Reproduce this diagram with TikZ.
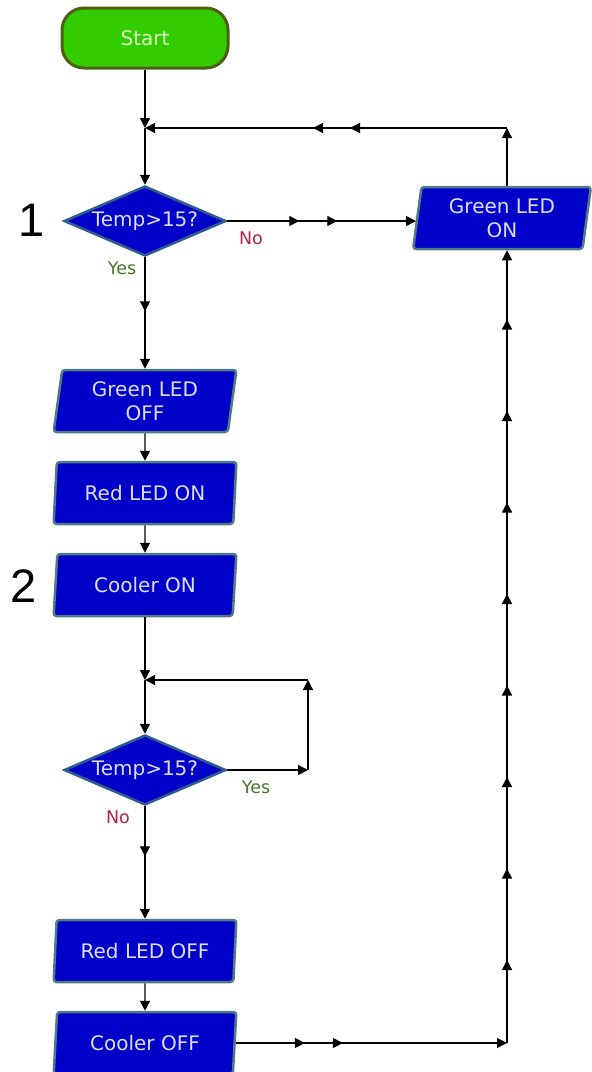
\documentclass[tikz,border=0pt]{standalone}
\usepackage{fontspec}
\setmainfont{DejaVu Sans}
\newfontfamily\stepfont{Liberation Sans}
\usetikzlibrary{shapes.geometric,arrows.meta,decorations.markings}

\definecolor{startgreen}{RGB}{51,204,0}
\definecolor{startrim}{RGB}{78,96,20}
\definecolor{startpale}{RGB}{222,245,200}
\definecolor{boxblue}{RGB}{0,0,200}
\definecolor{boxrim}{RGB}{80,122,134}
\definecolor{diarim}{RGB}{46,94,142}
\definecolor{boxtext}{RGB}{222,222,255}
\definecolor{yesgreen}{RGB}{70,120,40}
\definecolor{nored}{RGB}{170,40,70}

\newcommand\flowfont{\fontsize{20}{24}\selectfont}
\newcommand\lblfont{\fontsize{17.5}{20}\selectfont}

\tikzset{
  flowtip/.tip={Triangle[length=10pt,width=10pt]},
  flow/.style={line width=1.4pt,-flowtip},
  tipat/.style={postaction={decorate,decoration={markings,
      mark=at position #1 with {\arrow{flowtip}}}}},
  tipsup/.style={postaction={decorate,decoration={markings,
      mark=between positions 83pt and 740pt step 91.5pt with {\arrow{flowtip}}}}},
  startbox/.style={rectangle,rounded corners=22pt,fill=startgreen,draw=startrim,
    line width=3pt,minimum width=166pt,minimum height=60pt,text=startpale,font=\flowfont},
  iobox/.style={trapezium,trapezium left angle=82,trapezium right angle=98,
    trapezium stretches=true,fill=boxblue,draw=boxrim,line width=2.5pt,
    rounded corners=3pt,minimum width=183pt,minimum height=62pt,inner sep=0pt,
    text=boxtext,align=center,font=\flowfont},
  testbox/.style={diamond,aspect=2.3,inner sep=0pt,minimum width=162pt,
    minimum height=70pt,fill=boxblue,draw=diarim,line width=2.5pt,text=boxtext,font=\flowfont},
  yeslbl/.style={text=yesgreen,font=\lblfont,inner sep=0pt},
  nolbl/.style={text=nored,font=\lblfont,inner sep=0pt},
  stepno/.style={font=\stepfont\fontsize{47}{50}\selectfont,inner sep=0pt}
}

\begin{document}
\begin{tikzpicture}[x=1pt,y=-1pt]
  \useasboundingbox (0,0) rectangle (592,1072);

  % Start
  \node[startbox] (start) at (145,38) {Start};

  % First test
  \node[testbox] (test1) at (145,221) {Temp>15?};
  \node[stepno] (num1) at (32,220) {1};
  \node[yeslbl] (yes1) at (122,268) {Yes};
  \node[nolbl] (no1) at (251,238) {No};

  % Outputs
  \node[iobox,minimum width=178pt] (gon) at (502,218) {Green LED\\ON};
  \node[iobox] (goff) at (145,401) {Green LED\\OFF};
  \node[iobox] (ron) at (145,493) {Red LED ON};
  \node[iobox] (con) at (145,585) {Cooler ON};
  \node[stepno] (num2) at (24,586) {2};

  % Second test
  \node[testbox] (test2) at (145,770) {Temp>15?};
  \node[yeslbl] (yes2) at (256,787) {Yes};
  \node[nolbl] (no2) at (118,817) {No};

  \node[iobox] (roff) at (145,951) {Red LED OFF};
  \node[iobox] (coff) at (145,1043) {Cooler OFF};

  % Junctions
  \coordinate (join1) at (145,128);
  \coordinate (join2) at (145,680);
  \coordinate (ret1) at (507,128);
  \coordinate (ret2) at (308,680);
  \coordinate (yes2end) at (308,770);
  \coordinate (out) at (507,1043);

  % Main flow
  \draw[flow] (start) -- (join1);
  \draw[flow] (join1) -- (test1);
  \draw[flow,tipat=72pt,tipat=110pt] (test1.east) -- (test1.east -| gon.west);
  \draw[flow] (ret1 |- gon.north) -- (ret1);
  \draw[flow,tipat=157pt,tipat=194pt] (ret1) -- (join1);
  \draw[flow,tipat=54pt] (test1) -- (goff);
  \draw[flow] (goff) -- (ron);
  \draw[flow] (ron) -- (con);
  \draw[flow] (con) -- (join2);
  \draw[flow] (join2) -- (test2);

  % Wait loop
  \draw[flow] (test2.east) -- (yes2end);
  \draw[flow] (yes2end) -- (ret2);
  \draw[flow] (ret2) -- (join2);

  \draw[flow,tipat=50pt] (test2) -- (roff);
  \draw[flow] (roff) -- (coff);

  % Back to top
  \draw[flow,tipat=69pt,tipat=107pt] (coff.east) -- (out);
  \draw[flow,tipsup] (out) -- (out |- gon.south);
\end{tikzpicture}
\end{document}
